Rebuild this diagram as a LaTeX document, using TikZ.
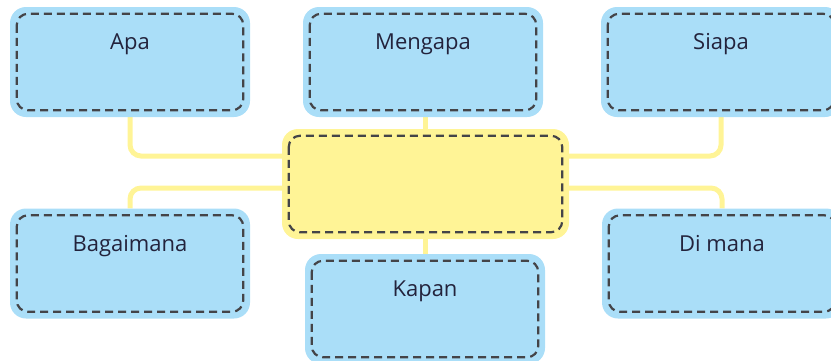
\documentclass[tikz,border=0pt]{standalone}
\usepackage{fontspec}
\setmainfont{Open Sans}
\usetikzlibrary{positioning, backgrounds}
\definecolor{sky_bg}{RGB}{170, 222, 248}
\definecolor{sun_bg}{RGB}{255, 244, 150}
\definecolor{dash_grey}{RGB}{68, 68, 72}
\definecolor{label_ink}{RGB}{35, 35, 60}
\tikzstyle{question} = [rectangle, rounded corners=16pt, minimum width=240pt, minimum height=110pt, inner sep=0pt, fill=sky_bg]
\tikzstyle{topic} = [question, minimum width=287pt, fill=sun_bg]
\tikzstyle{caption} = [anchor=base, yshift=-43pt, font=\fontsize{22}{26}\selectfont, text=label_ink]
\tikzstyle{dashbox} = [draw=dash_grey, line width=2.2pt, dash pattern=on 8pt off 5pt, rounded corners=11pt]
\tikzstyle{link} = [draw=sun_bg, line width=5pt, rounded corners=11pt]

\begin{document}
\begin{tikzpicture}[x=1pt, y=-1pt]
        \useasboundingbox (0,0) rectangle (831,360);

        \node (apa) [question, label={[caption]north:Apa}] at (130,62) {};
        \node (mengapa) [question, label={[caption]north:Mengapa}] at (423,62) {};
        \node (siapa) [question, label={[caption]north:Siapa}] at (721,62) {};

        \node (center) [topic] at (425.5,184) {};

        \node (bagaimana) [question, label={[caption]north:Bagaimana}] at (130,263.5) {};
        \node (dimana) [question, label={[caption]north:Di mana}] at (722,263.5) {};
        \node (kapan) [question, label={[caption]north:Kapan}] at (425,309) {};

        \foreach \n in {apa, mengapa, siapa, center, bagaimana, dimana, kapan}
            \draw [dashbox] ([shift={(7pt,-7pt)}]\n.north west) rectangle ([shift={(-7pt,7pt)}]\n.south east);

        \begin{scope}[on background layer]
            \draw [link] (apa.south) |- ([yshift=28pt]center.west);
            \draw [link] (siapa.south) |- ([yshift=28pt]center.east);
            \draw [link] (bagaimana.north) |- ([yshift=-4pt]center.west);
            \draw [link] (dimana.north) |- ([yshift=-4pt]center.east);
            \draw [link] (center.north) -- (center.north |- mengapa.south);
            \draw [link] (center.south) -- (center.south |- kapan.north);
        \end{scope}
    \end{tikzpicture}
\end{document}
